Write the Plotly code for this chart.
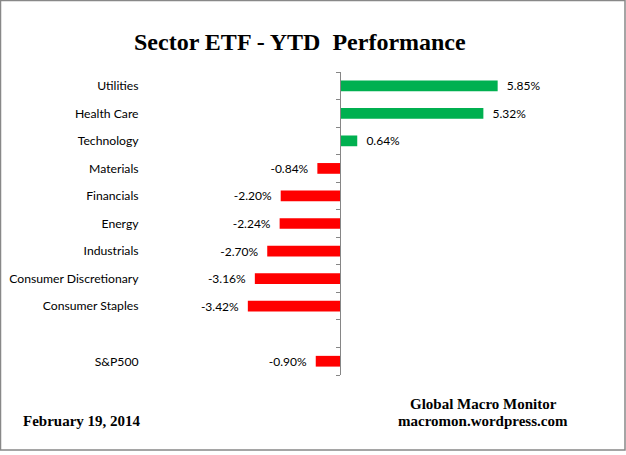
import plotly.graph_objects as go

categories = ["Utilities", "Health Care", "Technology", "Materials", "Financials",
              "Energy", "Industrials", "Consumer Discretionary", "Consumer Staples",
              " ", "S&P500"]
values = [5.85, 5.32, 0.64, -0.84, -2.20, -2.24, -2.70, -3.16, -3.42, None, -0.90]
title_text = "Sector ETF - YTD \u00a0Performance"
date_text = "February 19, 2014"
source_lines = ["Global Macro Monitor", "macromon.wordpress.com"]

GREEN = "#00B050"
RED = "#FF0000"

colors = ["white" if v is None else (GREEN if v >= 0 else RED) for v in values]
texts = ["" if v is None else (f"  {v:.2f}%" if v >= 0 else f"{v:.2f}%  ") for v in values]

W, H = 626, 455
L, R, T, B = 145, 46, 72, 80
pw, ph = W - L - R, H - T - B
zero_px = 340 - L
scale = 26.95
xmin = -zero_px / scale
xmax = (pw - zero_px) / scale

fig = go.Figure()
fig.add_trace(go.Bar(
    x=values, y=categories, orientation="h",
    marker=dict(color=colors, line=dict(width=0)),
    width=0.39,
    text=texts, textposition="outside", constraintext="none",
    textfont=dict(family="Lato", size=12, color="#000000"),
    cliponaxis=False, hoverinfo="skip",
))

n = len(categories)
tick_pos = [i - 0.5 for i in range(n + 1)]

fig.update_layout(
    width=W, height=H,
    margin=dict(l=L, r=R, t=T, b=B, autoexpand=False),
    paper_bgcolor="white", plot_bgcolor="white",
    showlegend=False,
    font=dict(family="Lato", size=12, color="#000000"),
    xaxis=dict(range=[xmin, xmax], visible=False, showgrid=False, zeroline=False,
               automargin=False),
    yaxis=dict(type="category", categoryorder="array", categoryarray=categories,
               range=[n - 0.5, -0.5], showgrid=False, zeroline=False, showline=False,
               automargin=False,
               ticks="outside", ticklen=3, tickcolor="rgba(0,0,0,0)",
               tickfont=dict(family="Lato", size=12.2, color="#000000")),
    yaxis2=dict(overlaying="y", anchor="free", position=zero_px / pw, side="left",
                range=[n - 0.5, -0.5], tickmode="array", tickvals=tick_pos,
                automargin=False,
                showticklabels=False, ticks="outside", ticklen=4, tickcolor="#868686",
                showline=True, linecolor="#868686", linewidth=1,
                showgrid=False, zeroline=False),
)
# dummy trace to activate yaxis2
fig.add_trace(go.Scatter(x=[None], y=[None], yaxis="y2", showlegend=False, hoverinfo="skip"))

def px_x(p):
    return (p - L) / pw

def px_y(p):
    return (H - B - p) / ph

fig.add_annotation(text=f"<b>{title_text}</b>", xref="paper", yref="paper",
                   x=px_x(300), y=px_y(42), showarrow=False,
                   font=dict(family="Liberation Serif", size=24, color="#000000"),
                   xanchor="center", yanchor="middle")
fig.add_annotation(text=f"<b>{date_text}</b>", xref="paper", yref="paper",
                   x=px_x(21), y=px_y(421), showarrow=False,
                   font=dict(family="Liberation Serif", size=15, color="#000000"),
                   xanchor="left", yanchor="middle")
fig.add_annotation(text=f"<b>{source_lines[0]}</b>", xref="paper", yref="paper",
                   x=px_x(483), y=px_y(404), showarrow=False,
                   font=dict(family="Liberation Serif", size=15, color="#000000"),
                   xanchor="center", yanchor="middle")
fig.add_annotation(text=f"<b>{source_lines[1]}</b>", xref="paper", yref="paper",
                   x=px_x(483), y=px_y(421), showarrow=False,
                   font=dict(family="Liberation Serif", size=15, color="#000000"),
                   xanchor="center", yanchor="middle")

fig.add_shape(type="rect", xref="paper", yref="paper",
              x0=px_x(0.5), x1=px_x(625), y0=px_y(0.5), y1=px_y(450),
              line=dict(color="#888888", width=1.5), fillcolor="rgba(0,0,0,0)",
              layer="below")

fig.write_html("out.html", config={"displayModeBar": False},
               post_script="document.body.style.margin='0';document.body.style.overflow='hidden';")
